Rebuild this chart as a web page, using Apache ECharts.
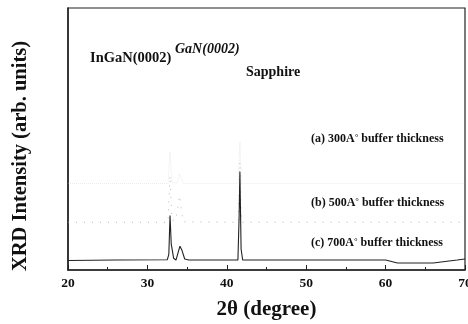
<!DOCTYPE html>
<html><head><meta charset="utf-8">
<script src="https://cdn.jsdelivr.net/npm/echarts@6/dist/echarts.min.js"></script>
<style>html,body{margin:0;padding:0;background:#fff}#c{width:468px;height:324px}</style>
</head><body><div id="c"></div>
<script>
// 2θ positions and intensities (arbitrary units)
var thetaC = [20, 26, 32.5, 32.7, 32.85, 33.0, 33.3, 33.6, 33.9, 34.1, 34.35, 34.7, 35.2, 41.4, 41.55, 41.65, 41.8, 42, 50, 60, 61.5, 66, 69, 70];
var seriesC = [3.6, 3.8, 3.9, 6, 20.8, 10, 4.5, 3.8, 7, 9.1, 7.5, 4.2, 3.8, 3.8, 20, 37.5, 8, 3.8, 3.8, 3.8, 2.7, 2.7, 3.8, 4.2];
var thetaB = [20, 32.6, 32.85, 33.1, 33.6, 34.05, 34.5, 41.45, 41.65, 41.85, 70];
var seriesB = [18.2, 18.2, 36, 19, 19, 28.4, 18.4, 18.2, 41.3, 18.2, 18.2];
var thetaA = [20, 32.6, 32.85, 33.1, 33.7, 34.05, 34.5, 41.45, 41.65, 41.85, 70];
var seriesA = [33, 33, 45, 33.5, 33.2, 36.7, 33, 33, 48.9, 33, 33];
var xTicks = [20, 30, 40, 50, 60, 70];

function pairs(xs, ys){ return xs.map(function(x,i){ return [x, ys[i]]; }); }

var serif = '"Liberation Serif", "DejaVu Serif", serif';
function lab(tag, num){
  return {type: 'text', left: 311, style: {text: '{t|' + tag + ' ' + num + 'A}{s|°}{t| buffer thickness}',
    rich: {t: {font: 'bold 12px ' + serif, fill: '#111'}, s: {font: 'bold 9px ' + serif, fill: '#111', verticalAlign: 'top'}}}};
}
var la = lab('(a)', '300'); la.top = 133;
var lb = lab('(b)', '500'); lb.top = 197;
var lc = lab('(c)', '700'); lc.top = 237;

var chart = echarts.init(document.getElementById('c'));
chart.setOption({
  animation: false,
  grid: {left: 68, right: 3, top: 8, bottom: 54, show: true, borderColor: '#222', borderWidth: 1.2, outerBoundsMode: 'none', containLabel: false},
  xAxis: {
    type: 'value', min: xTicks[0], max: xTicks[xTicks.length-1], interval: 10,
    name: '2θ (degree)', nameLocation: 'middle', nameGap: 29,
    nameTextStyle: {fontFamily: serif, fontWeight: 'bold', fontSize: 21, color: '#111'},
    axisLine: {lineStyle: {color: '#222', width: 1.5}},
    axisTick: {inside: true, length: 5, lineStyle: {color: '#222'}},
    minorTick: {show: true, splitNumber: 2, length: 3, lineStyle: {color: '#222'}},
    splitLine: {show: false},
    axisLabel: {fontFamily: serif, fontWeight: 'bold', fontSize: 13.5, color: '#111', margin: 7}
  },
  yAxis: {
    type: 'value', min: 0, max: 100,
    axisLine: {show: true, lineStyle: {color: '#222', width: 1.5}},
    axisTick: {show: false}, axisLabel: {show: false}, splitLine: {show: false}
  },
  series: [
    {type: 'line', data: pairs(thetaA, seriesA), showSymbol: false, silent: true,
     lineStyle: {color: '#bbb', width: 1, type: 'dotted', opacity: 0.3}},
    {type: 'line', data: pairs(thetaB, seriesB), showSymbol: false, silent: true,
     lineStyle: {color: '#999', width: 1, type: [1, 7], opacity: 0.7}},
    {type: 'line', data: pairs(thetaC, seriesC), showSymbol: false, silent: true,
     lineStyle: {color: '#222', width: 1.1}}
  ],
  graphic: [
    {type: 'text', x: 21, y: 156, rotation: Math.PI / 2,
     style: {text: 'XRD Intensity (arb. units)', font: 'bold 20.5px ' + serif, fill: '#111', align: 'center', verticalAlign: 'middle'}},
    {type: 'text', left: 90, top: 51, style: {text: 'InGaN(0002)', font: 'bold 14.5px ' + serif, fill: '#111'}},
    {type: 'text', left: 175, top: 42, style: {text: 'GaN(0002)', font: 'italic bold 14px ' + serif, fill: '#111'}},
    {type: 'text', left: 246, top: 65, style: {text: 'Sapphire', font: 'bold 14px ' + serif, fill: '#111'}},
    la, lb, lc
  ]
});
</script></body></html>
